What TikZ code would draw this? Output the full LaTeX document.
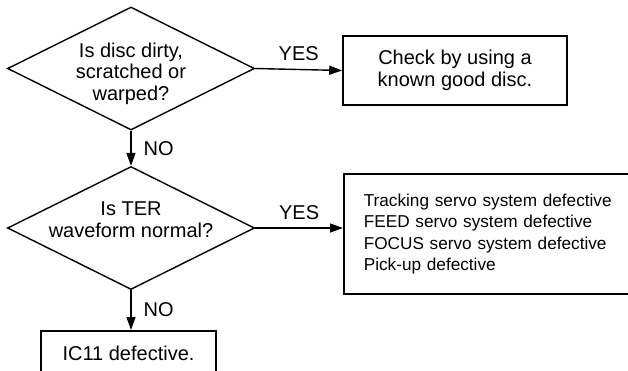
\documentclass[tikz,border=0pt]{standalone}
\usepackage{fontspec}
\setmainfont{Liberation Sans}
\usetikzlibrary{shapes.geometric,arrows.meta}
\begin{document}
\begin{tikzpicture}[x=1pt,y=-1pt,
  every node/.style={font=\fontsize{20}{21.5}\selectfont},
  dia/.style={draw,shape=diamond,line width=1.4pt,inner sep=0pt,minimum width=247pt,minimum height=123pt},
  txt/.style={align=center,inner sep=0pt},
  box/.style={draw,rectangle,line width=1.6pt},
  arr/.style={line width=1.4pt,-{Triangle[length=13pt,width=9pt]}},
  lbl/.style={inner sep=0pt}
]
\useasboundingbox (0,0) rectangle (628,370);
\clip (0,0) rectangle (628,370);
% decision 1
\node[dia] (d1) at (131,68.5) {};
\node[txt] (t1) at (131,73.5) {Is disc dirty,\\scratched or\\warped?};
% box 1
\node[box,minimum width=224pt,minimum height=69pt,align=center,inner sep=0pt] (b1) at (455,70.5) {Check by using a\\known good disc.};
% decision 2
\node[dia] (d2) at (131,228) {};
\node[txt] (t2) at (131,219.5) {Is TER\\waveform normal?};
% box 2
\node[box,anchor=west,minimum width=357pt,minimum height=120pt,text width=317pt,inner xsep=20pt,align=left,font=\fontsize{17.2}{21.5}\selectfont] (b2) at (343,234) {Tracking servo system defective\\FEED servo system defective\\FOCUS servo system defective\\Pick-up defective};
% box 3
\node[box,anchor=north,minimum width=175pt,inner ysep=15pt] (b3) at (128.5,330) {IC11 defective.};
% connectors
\draw[arr] (d1.east) -- (b1.west) node[lbl,midway,above=8pt] (y1) {YES};
\draw[arr] (d1.south) -- (d2.north) node[lbl,midway,anchor=west,xshift=12pt] (n1) {NO};
\draw[arr] (d2.east) -- (d2.east -| b2.west) node[lbl,midway,above=8pt] (y2) {YES};
\draw[arr] (d2.south) -- (d2.south |- b3.north) node[lbl,midway,anchor=west,xshift=12pt] (n2) {NO};
\end{tikzpicture}
\end{document}
